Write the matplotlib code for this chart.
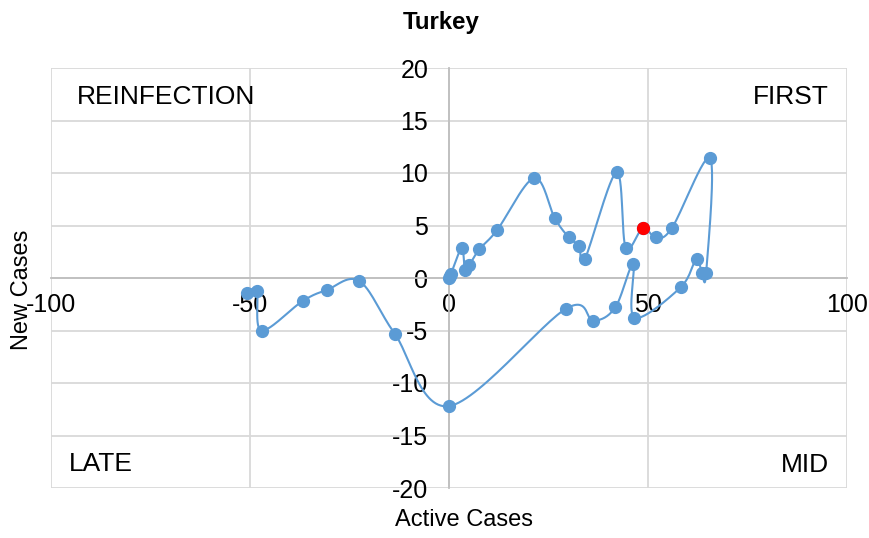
import numpy as np
import matplotlib
matplotlib.use("Agg")
import matplotlib.pyplot as plt

plt.rcParams['font.family'] = ['Liberation Sans', 'DejaVu Sans']

title = "Turkey"
x_label = "Active Cases"
y_label = "New Cases"
active = [0.0, 0.2, 0.5, 3.2, 4.0, 5.1, 7.6, 12.1, 21.4, 26.6, 30.1, 32.7, 34.1,
          42.1, 44.4, 48.7, 51.9, 56.0, 65.6, 64.6, 63.5, 62.2, 58.2, 46.6, 46.3,
          41.8, 36.3, 29.3, 0.0, -13.6, -22.5, -30.7, -36.8, -47.1, -48.3, -50.8]
new = [0.0, 0.15, 0.4, 2.83, 0.76, 1.24, 2.73, 4.57, 9.52, 5.68, 3.87, 3.05, 1.78,
       10.07, 2.89, 4.79, 3.87, 4.76, 11.4, 0.45, 0.45, 1.84, -0.89, -3.78, 1.33,
       -2.79, -4.06, -2.95, -12.2, -5.33, -0.3, -1.14, -2.2, -5.0, -1.24, -1.4]
highlight_active = [48.7]
highlight_new = [4.79]
x_ticks = [-100, -50, 0, 50, 100]
y_ticks = [-20, -15, -10, -5, 0, 5, 10, 15, 20]
quadrants = ["REINFECTION", "FIRST", "LATE", "MID"]

blue = "#5B9BD5"


def smooth(xs, ys, n=30):
    p = np.column_stack([xs, ys]).astype(float)
    p = np.vstack([p[0], p, p[-1]])
    out = []
    t = np.linspace(0, 1, n)
    for i in range(1, len(p) - 2):
        p0, p1, p2, p3 = p[i - 1], p[i], p[i + 1], p[i + 2]
        c1 = p1 + (p2 - p0) / 6.0
        c2 = p2 - (p3 - p1) / 6.0
        tt = t[:, None]
        seg = ((1 - tt) ** 3) * p1 + 3 * ((1 - tt) ** 2) * tt * c1 + 3 * (1 - tt) * tt ** 2 * c2 + tt ** 3 * p2
        out.append(seg if i == 1 else seg[1:])
    s = np.vstack(out)
    return s[:, 0], s[:, 1]


fig = plt.figure(figsize=(8.69, 5.38), dpi=100)
ax = fig.add_axes([51 / 869, 50 / 538, 796 / 869, 420 / 538])
ax.set_xlim(-100, 100)
ax.set_ylim(-20, 20)
ax.set_xticks(x_ticks)
ax.set_yticks(y_ticks)
ax.grid(True, color="#d9d9d9", linewidth=1.3, zorder=0)
for s in ["top", "right"]:
    ax.spines[s].set_visible(False)
ax.spines['left'].set_position(('data', 0))
ax.spines['bottom'].set_position(('data', 0))
ax.spines['left'].set_color("#bfbfbf")
ax.spines['bottom'].set_color("#bfbfbf")
ax.spines['left'].set_linewidth(1.3)
ax.spines['bottom'].set_linewidth(1.3)
ax.tick_params(axis='both', length=0, labelsize=18, colors="black")
ax.tick_params(axis='y', pad=15)
ax.tick_params(axis='x', pad=11)
ax.set_xticklabels([str(v) for v in x_ticks])
ax.set_yticklabels([str(v) for v in y_ticks])

sx, sy = smooth(active, new)
ax.plot(sx, sy, color=blue, linewidth=1.5, zorder=3, clip_on=False)
ax.plot(active, new, linestyle='none', marker='o', markersize=8.5, color=blue, zorder=4, clip_on=False)
ax.plot(highlight_active, highlight_new, linestyle='none', marker='o', markersize=8.5, color="red", zorder=5)

ax.text(26 / 796, 1 - 29 / 420, quadrants[0], transform=ax.transAxes, fontsize=19, ha='left', va='center')
ax.text(1 - 18 / 796, 1 - 29 / 420, quadrants[1], transform=ax.transAxes, fontsize=19, ha='right', va='center')
ax.text(18 / 796, 24 / 420, quadrants[2], transform=ax.transAxes, fontsize=19, ha='left', va='center')
ax.text(1 - 18 / 796, 23 / 420, quadrants[3], transform=ax.transAxes, fontsize=19, ha='right', va='center')

fig.text(441 / 869, 1 - 22 / 538, title, fontsize=17.3, fontweight='bold', ha='center', va='center')
fig.text(464 / 869, 1 - 520 / 538, x_label, fontsize=17, ha='center', va='center')
fig.text(22 / 869, 1 - 290 / 538, y_label, fontsize=17, ha='center', va='center', rotation=90)

fig.savefig("out.png", dpi=100)
